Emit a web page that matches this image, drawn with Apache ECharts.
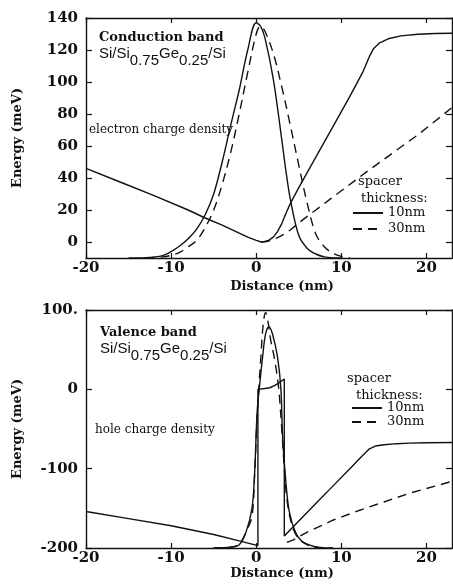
<!DOCTYPE html>
<html><head><meta charset="utf-8">
<script src="https://cdn.jsdelivr.net/npm/echarts@6/dist/echarts.min.js"></script>
<style>html,body{margin:0;padding:0;background:#fff}#c{width:453px;height:585px}</style>
</head><body><div id="c"></div>
<script>
// ---- tick values ----
const xTicks = [-20, -10, 0, 10, 20];
const cbTicks = [0, 20, 40, 60, 80, 100, 120, 140];
const vbTicks = [-200, -100, 0, 100];

// ---- Conduction band (top) ----
const cbBand10X = [-20, -16, -12, -8, -6, -4, -2, -1, 0, 0.6, 1, 1.5, 2, 2.5, 3, 3.5, 4, 5, 7, 9, 11, 12.5, 13.3, 13.8, 14.5, 15.5, 17, 19, 21, 23];
const cbBand10Y = [46, 37.5, 29, 20, 15, 10.5, 5.5, 3, 1, 0, 0.3, 1.2, 3, 6.5, 11.5, 18, 24, 34, 53, 72, 91, 106, 116, 121, 124.5, 127, 128.8, 129.8, 130.3, 130.5];
const cbBand30X = [0.6, 1.2, 2, 3, 4, 5, 7, 10, 13, 16, 19, 21, 23];
const cbBand30Y = [0, 0.3, 1.5, 4, 7.5, 12, 20, 32, 44, 55.5, 67, 75.5, 84];
const cbDens10X = [-15, -13, -11, -10, -9, -8, -7, -6, -5, -4, -3, -2, -1, 0, 0.5, 1, 2, 3, 3.5, 4, 5, 6, 7, 8, 9, 10];
const cbDens10Y = [-10, -9.8, -8.5, -6, -2.5, 2, 8, 17, 30, 50, 73, 95, 120, 137, 135, 128, 102, 64, 44, 27, 4, -4, -7.5, -9.3, -9.9, -10];
const cbDens30X = [-13, -11, -10, -9, -8, -7, -6, -5, -4, -3, -2, -1, 0, 0.5, 1, 2, 3, 4, 5, 6, 7, 8, 9, 10, 11];
const cbDens30Y = [-10, -9.3, -8.3, -6.5, -3, 1, 9, 20, 36, 56, 80, 106, 130, 135, 132, 118, 97, 73, 48, 24, 5, -3, -7, -9, -10];

// ---- Valence band (bottom) ----
const vbBand10X = [-20, -15, -10, -5, -2, 0.2, 0.2, 1, 1.6, 2.2, 2.7, 3.3, 3.3, 5, 7, 9, 11, 12.5, 13.3, 14, 15, 16.5, 18, 20, 23];
const vbBand10Y = [-154, -163, -172, -183, -191, -197, 0, 1, 2, 5, 8.5, 13, -185, -166, -144, -122, -100, -83.5, -75, -71.5, -69.8, -68.5, -67.8, -67.3, -67];
const vbBand30X = [3.6, 4.3, 6, 9, 12, 15, 18, 21, 23];
const vbBand30Y = [-193, -190, -180, -165, -153, -142, -131, -122, -116];
const vbDens10X = [-5, -3, -2, -1.2, -0.5, -0.2, 0.1, 0.35, 0.75, 1.1, 1.5, 1.9, 2.5, 2.9, 3.1, 3.55, 3.9, 4.6, 5.3, 6.2, 7.5, 9];
const vbDens10Y = [-200, -199, -196, -180, -150, -108, -30, 0, 41, 70, 79, 70, 41, 0, -60, -125, -155, -180, -191, -196, -199.5, -200];
const vbDens30X = [-5, -3, -2, -1.2, -0.5, -0.2, 0.1, 0.35, 0.55, 0.8, 1.1, 1.4, 1.7, 2.1, 2.6, 3.0, 3.3, 3.6, 4, 4.6, 5.5, 7, 9];
const vbDens30Y = [-200, -199, -195, -180, -160, -110, -35, 10, 41, 80, 97, 84, 62, 41, 5, -50, -100, -138, -163, -182, -193, -199, -200];

const zip = (xs, ys) => xs.map((x, i) => [x, ys[i]]);

const SERIF = '"DejaVu Serif","Liberation Serif",serif';
const SANS = '"Liberation Sans",Arial,sans-serif';
const INK = '#111';

function xAx(grid, pos, showLabel) {
  return {
    type: 'value', gridIndex: grid, position: pos, min: -20, max: 23,
    axisLine: { show: true, onZero: false, lineStyle: { color: INK, width: 1.4 } },
    axisTick: { show: true, inside: true, length: 5, customValues: xTicks, lineStyle: { color: INK, width: 1.2 } },
    axisLabel: { show: showLabel, customValues: xTicks, margin: 3, color: INK, fontFamily: SERIF, fontWeight: 'bold', fontSize: 15 },
    splitLine: { show: false },
    name: showLabel ? 'Distance (nm)' : '', nameLocation: 'middle',
    nameGap: grid === 0 ? 22 : 16,
    nameTextStyle: { color: INK, fontFamily: SERIF, fontWeight: 'bold', fontSize: 13, padding: [0, 0, 0, 26] }
  };
}
function yAx(grid, pos, showLabel, min, max, ticks, fmt) {
  return {
    type: 'value', gridIndex: grid, position: pos, min: min, max: max,
    axisLine: { show: true, onZero: false, lineStyle: { color: INK, width: 1.4 } },
    axisTick: { show: true, inside: true, length: 6, customValues: ticks, lineStyle: { color: INK, width: 1.2 } },
    axisLabel: { show: showLabel, customValues: ticks, margin: 8, color: INK, fontFamily: SERIF, fontWeight: 'bold', fontSize: 15, formatter: fmt },
    splitLine: { show: false },
    name: showLabel ? 'Energy (meV)' : '', nameLocation: 'middle', nameRotate: 90, nameGap: 62,
    nameTextStyle: { color: INK, fontFamily: SERIF, fontWeight: 'bold', fontSize: 13 }
  };
}
function ser(name, xi, yi, xs, ys, dashed, smooth) {
  return {
    type: 'line', name: name, xAxisIndex: xi, yAxisIndex: yi, data: zip(xs, ys),
    symbol: 'none', showSymbol: false, smooth: smooth ? 0.35 : false,
    lineStyle: { color: INK, width: 1.4, type: dashed ? [9, 6] : 'solid' },
    itemStyle: { color: INK }, z: 3
  };
}

const richSi = () => ({
  text: '{a|Si/Si}{s|0.75}{a|Ge}{s|0.25}{a|/Si}',
  rich: {
    a: { fontFamily: SANS, fontSize: 15, fill: INK, verticalAlign: 'top', padding: [0, 0, 0, 0] },
    s: { fontFamily: SANS, fontSize: 15, fill: INK, verticalAlign: 'top', padding: [7, 0, 0, 0] }
  }
});

const legendBase = {
  data: ['10nm', '30nm'], orient: 'vertical', padding: 0, itemWidth: 30, itemHeight: 10,
  selectedMode: false, itemStyle: { color: 'rgba(0,0,0,0)', borderWidth: 0 },
  textStyle: { color: INK, fontFamily: SERIF, fontSize: 13, lineHeight: 14 }
};

const chart = echarts.init(document.getElementById('c'), null, { renderer: 'canvas' });
chart.setOption({
  animation: false,
  backgroundColor: '#fff',
  grid: [
    { left: 86, top: 18, width: 366, height: 240 },
    { left: 86, top: 310, width: 366, height: 238 }
  ],
  xAxis: [xAx(0, 'bottom', true), xAx(0, 'top', false), xAx(1, 'bottom', true), xAx(1, 'top', false)],
  yAxis: [
    yAx(0, 'left', true, -10, 140, cbTicks),
    yAx(0, 'right', false, -10, 140, cbTicks),
    yAx(1, 'left', true, -200, 100, vbTicks, v => (v === 100 ? '100.' : String(v))),
    yAx(1, 'right', false, -200, 100, vbTicks)
  ],
  legend: [
    Object.assign({}, legendBase, { left: 352, top: 206, itemGap: 2 }),
    Object.assign({}, legendBase, { left: 351, top: 401, itemGap: 0 })
  ],
  series: [
    ser('10nm', 0, 0, cbBand10X, cbBand10Y, false, false),
    ser('30nm', 0, 0, cbBand30X, cbBand30Y, true, false),
    ser('10nm', 0, 0, cbDens10X, cbDens10Y, false, true),
    ser('30nm', 0, 0, cbDens30X, cbDens30Y, true, true),
    ser('10nm', 2, 2, vbBand10X, vbBand10Y, false, false),
    ser('30nm', 2, 2, vbBand30X, vbBand30Y, true, false),
    ser('10nm', 2, 2, vbDens10X, vbDens10Y, false, true),
    ser('30nm', 2, 2, vbDens30X, vbDens30Y, true, true)
  ],
  graphic: [
    { type: 'text', x: 99, y: 38, style: { text: 'Conduction band', font: 'bold 13px ' + SERIF, fill: INK, verticalAlign: 'middle' } },
    { type: 'text', x: 99, y: 46, style: richSi() },
    { type: 'text', x: 89, y: 130, style: { text: 'electron charge density', font: '12px ' + SERIF, fill: INK, verticalAlign: 'middle' } },
    { type: 'text', x: 358, y: 182, style: { text: 'spacer', font: '13px ' + SERIF, fill: INK, verticalAlign: 'middle' } },
    { type: 'text', x: 361, y: 199, style: { text: 'thickness:', font: '13px ' + SERIF, fill: INK, verticalAlign: 'middle' } },

    { type: 'text', x: 100, y: 333, style: { text: 'Valence band', font: 'bold 13px ' + SERIF, fill: INK, verticalAlign: 'middle' } },
    { type: 'text', x: 100, y: 341, style: richSi() },
    { type: 'text', x: 95, y: 430, style: { text: 'hole charge density', font: '12px ' + SERIF, fill: INK, verticalAlign: 'middle' } },
    { type: 'text', x: 347, y: 379, style: { text: 'spacer', font: '13px ' + SERIF, fill: INK, verticalAlign: 'middle' } },
    { type: 'text', x: 356, y: 396, style: { text: 'thickness:', font: '13px ' + SERIF, fill: INK, verticalAlign: 'middle' } }
  ]
});
</script>
</body></html>
